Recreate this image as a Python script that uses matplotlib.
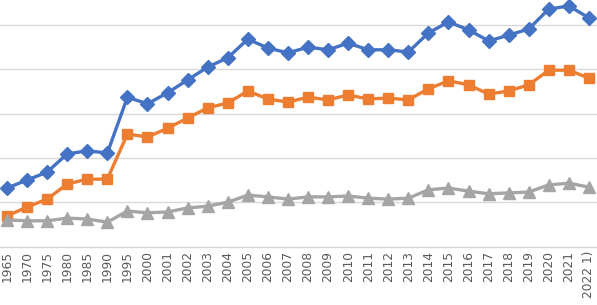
import matplotlib
matplotlib.use("Agg")
import matplotlib.pyplot as plt

categories = ["1965", "1970", "1975", "1980", "1985", "1990", "1995", "2000", "2001", "2002",
              "2003", "2004", "2005", "2006", "2007", "2008", "2009", "2010", "2011", "2012",
              "2013", "2014", "2015", "2016", "2017", "2018", "2019", "2020", "2021", "2022 1)"]

series_blue = [132, 150, 168, 209, 216, 211, 337, 322, 347, 376,
               405, 426, 468, 448, 437, 450, 444, 459, 444, 444,
               439, 482, 507, 489, 464, 477, 491, 536, 543, 516]

series_orange = [69, 89, 107, 141, 152, 152, 254, 247, 267, 290,
                 313, 324, 351, 333, 326, 337, 331, 342, 333, 335,
                 331, 356, 374, 365, 344, 351, 365, 398, 398, 380]

series_gray = [60, 58, 58, 64, 62, 55, 80, 76, 78, 87,
               91, 100, 116, 112, 107, 112, 112, 114, 109, 107,
               109, 128, 132, 125, 119, 121, 123, 139, 143, 134]

fig = plt.figure(figsize=(5.97, 3.05), dpi=100)
ax = fig.add_axes([0, 0.1918, 1, 0.8082])

x = list(range(len(categories)))
ax.plot(x, series_blue, color="#4472C4", lw=2.4, marker="D", markersize=7.2, zorder=3)
ax.plot(x, series_orange, color="#ED7D31", lw=2.4, marker="s", markersize=7.5, zorder=3)
ax.plot(x, series_gray, color="#A5A5A5", lw=2.4, marker="^", markersize=8, zorder=3)

ax.set_xlim(-0.349, 29.40)
ax.set_ylim(0, 556.4)
ax.set_yticks([100, 200, 300, 400, 500])
ax.yaxis.grid(True, color="#D9D9D9", lw=1)
ax.tick_params(axis="y", left=False, labelleft=False)
ax.set_xticks(x)
ax.set_xticklabels(categories, rotation=90, fontsize=8.8, color="#595959")
ax.tick_params(axis="x", length=0, pad=3)
for s in ["top", "right", "left"]:
    ax.spines[s].set_visible(False)
ax.spines["bottom"].set_color("#D9D9D9")
ax.spines["bottom"].set_linewidth(1)
ax.set_axisbelow(True)

fig.savefig("out.png", dpi=100)
